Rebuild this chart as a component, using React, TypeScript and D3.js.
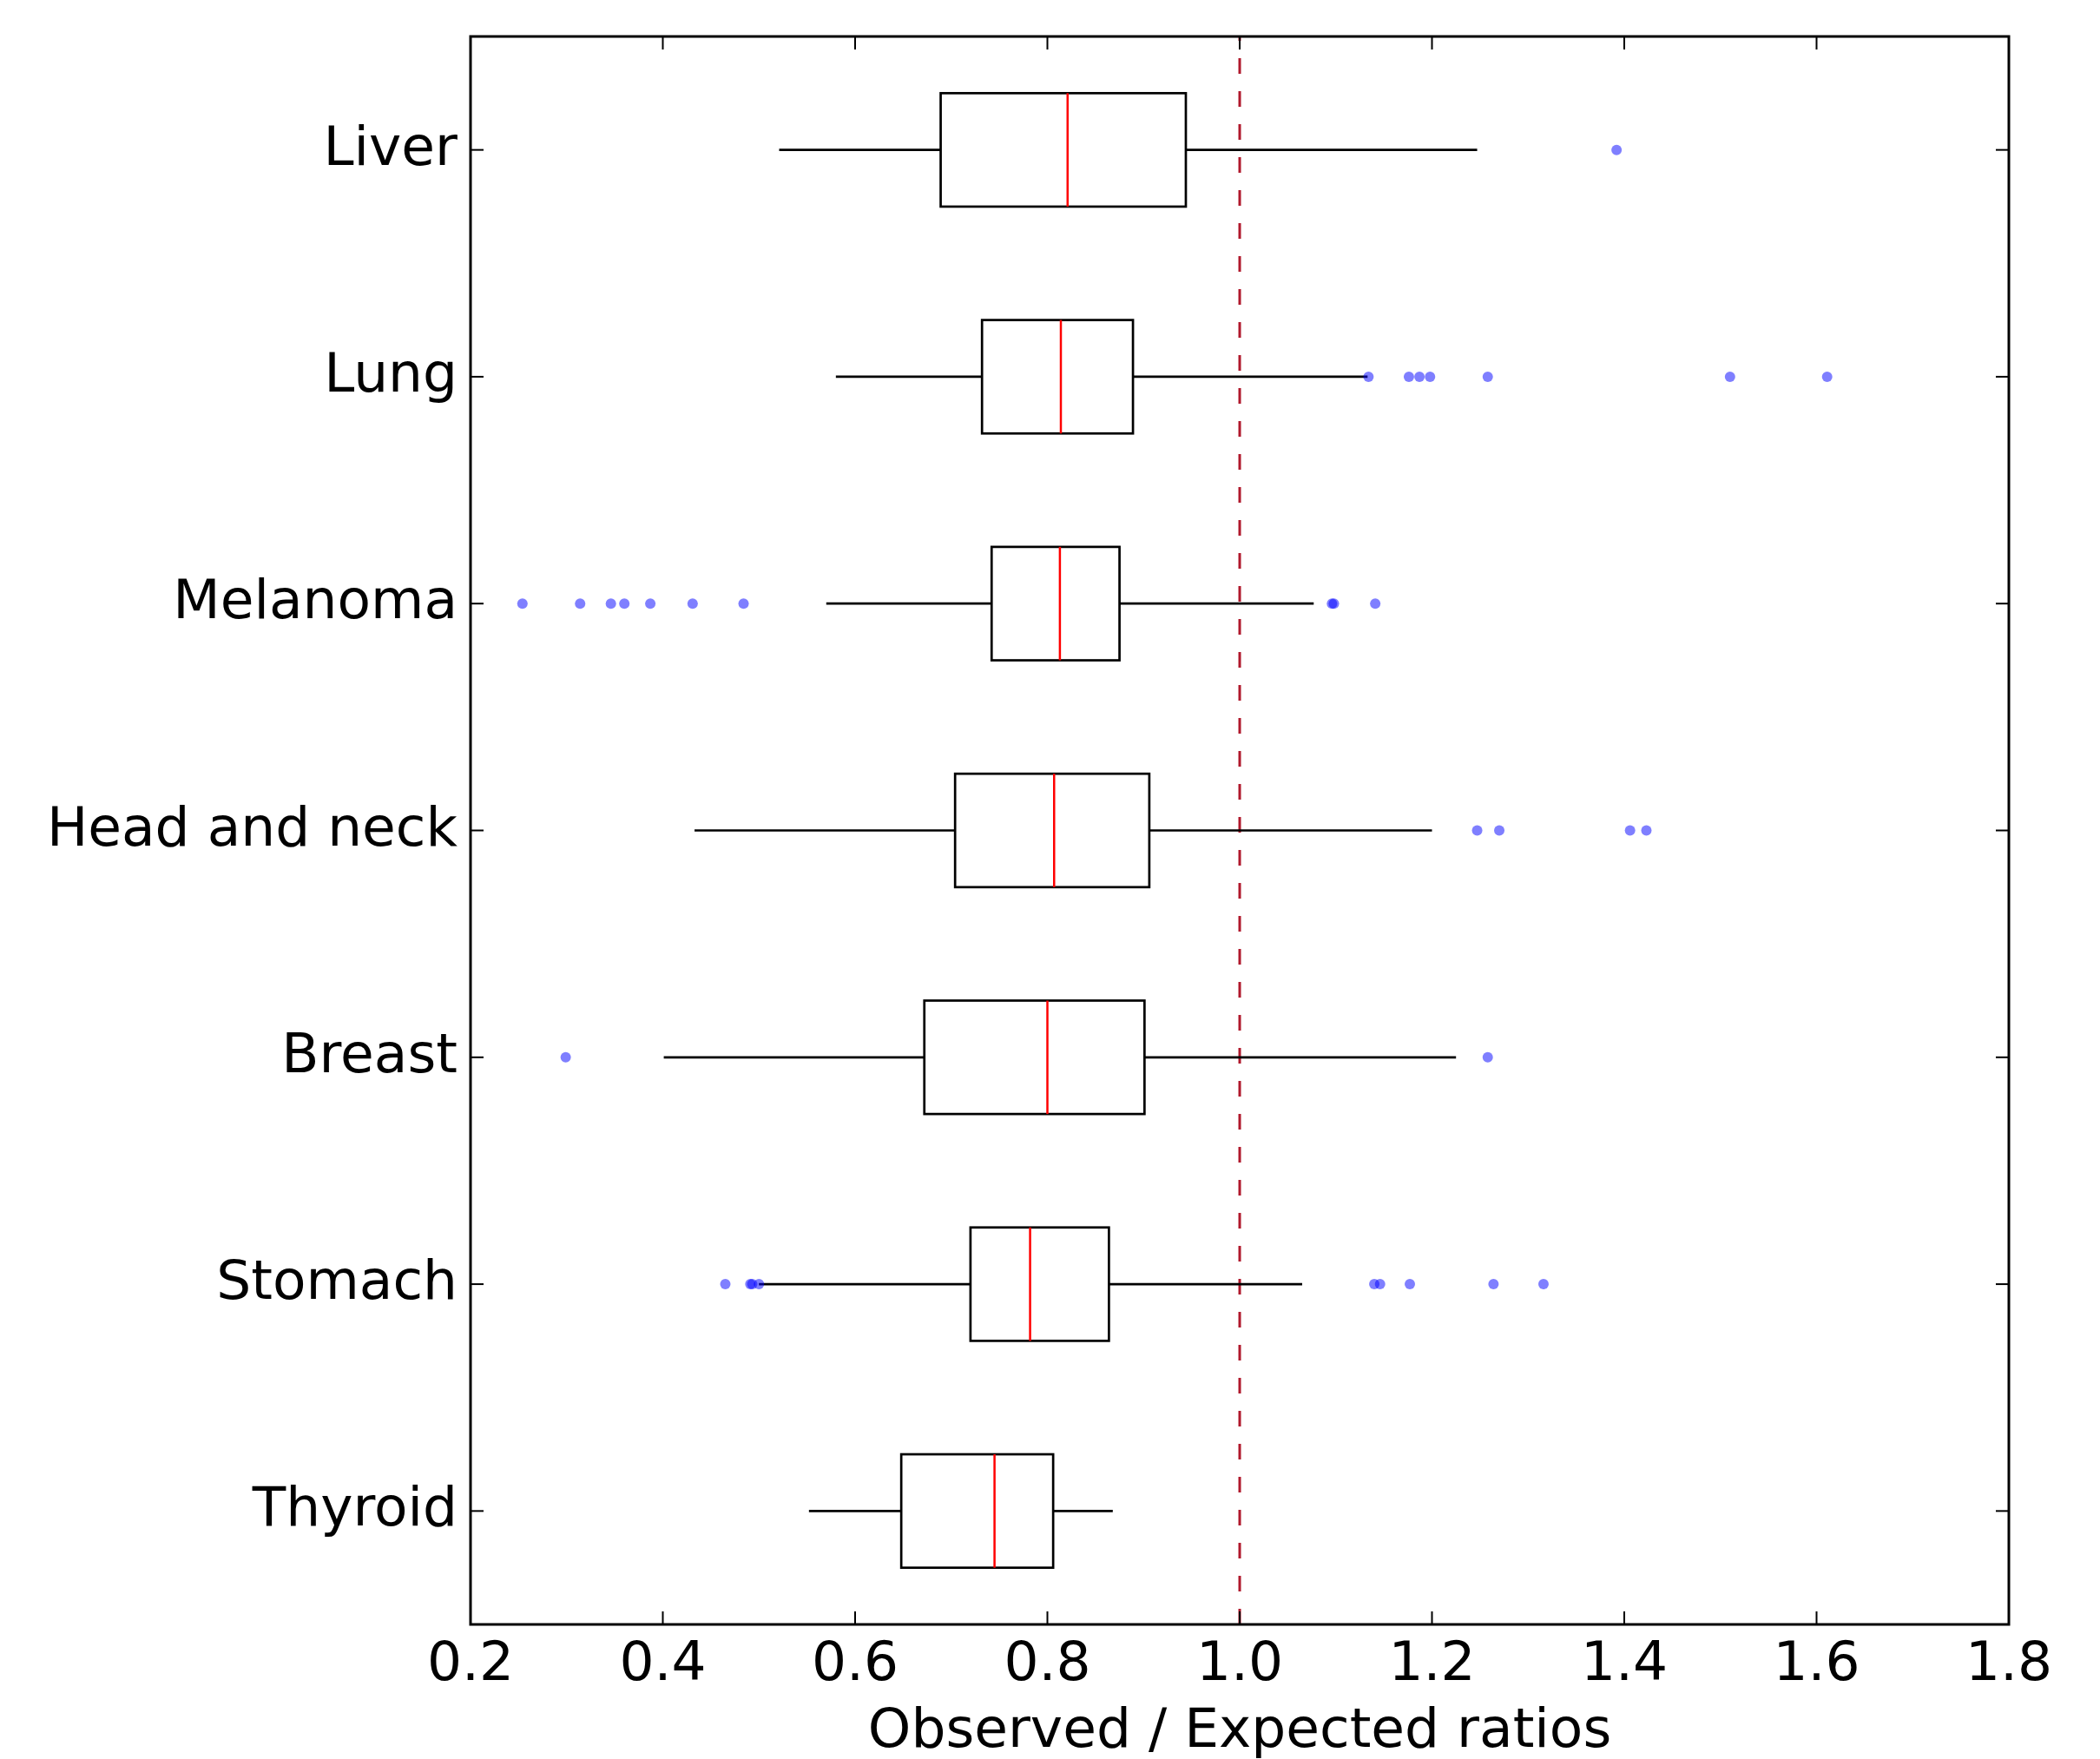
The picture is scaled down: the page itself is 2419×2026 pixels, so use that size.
import React from 'react';
import * as d3 from 'd3';

// categories top to bottom
const categories = ['Liver', 'Lung', 'Melanoma', 'Head and neck', 'Breast', 'Stomach', 'Thyroid'];

// box stats
const whiskerLow = [0.521, 0.58, 0.57, 0.433, 0.401, 0.5, 0.552];
const q1 = [0.689, 0.732, 0.742, 0.704, 0.672, 0.72, 0.648];
const median = [0.821, 0.814, 0.813, 0.807, 0.8, 0.782, 0.745];
const q3 = [0.944, 0.889, 0.875, 0.906, 0.901, 0.864, 0.806];
const whiskerHigh = [1.247, 1.133, 1.077, 1.2, 1.225, 1.065, 0.868];
const outliers = [
    [1.392],
    [1.134, 1.176, 1.187, 1.198, 1.258, 1.51, 1.611],
    [0.254, 0.314, 0.346, 0.36, 0.387, 0.431, 0.484, 1.096, 1.098, 1.141],
    [1.247, 1.27, 1.406, 1.423],
    [0.299, 1.258],
    [0.465, 0.491, 0.493, 0.5, 1.14, 1.146, 1.177, 1.264, 1.316],
    [],
];

const xTicks = [0.2, 0.4, 0.6, 0.8, 1.0, 1.2, 1.4, 1.6, 1.8];
const refLine = 1.0;
const xLabel = 'Observed / Expected ratios';

const width = 2419;
const height = 2026;
const margin = { top: 42, right: 105, bottom: 155, left: 542 };
const font = '"DejaVu Sans", sans-serif';
const fontSize = 63;

const App = () => {
    const x = d3.scaleLinear().domain([0.2, 1.8]).range([margin.left, width - margin.right]);
    const y = d3
        .scaleBand()
        .domain(categories)
        .range([margin.top, height - margin.bottom]);
    const bw = y.bandwidth();
    const boxH = bw * 0.5;
    const tickLen = 15;
    const x0 = margin.left;
    const x1 = width - margin.right;
    const y0 = margin.top;
    const y1 = height - margin.bottom;

    return (
        <svg
            width={width}
            height={height}
            style={{ position: 'absolute', left: 0, top: 0, background: '#fff' }}
            fontFamily={font}
        >
            <rect x={0} y={0} width={width} height={height} fill="#fff" />

            {/* reference line, dashes start at the bottom */}
            <line
                x1={x(refLine)}
                x2={x(refLine)}
                y1={y1}
                y2={y0}
                stroke="#b0182c"
                strokeWidth={3}
                strokeDasharray="18 20"
            />

            {categories.map((c, i) => {
                const cy = (y(c) || 0) + bw / 2;
                return (
                    <g key={c}>
                        <line x1={x(whiskerLow[i])} x2={x(q1[i])} y1={cy} y2={cy} stroke="#000" strokeWidth={2.7} />
                        <line x1={x(q3[i])} x2={x(whiskerHigh[i])} y1={cy} y2={cy} stroke="#000" strokeWidth={2.7} />
                        <rect
                            x={x(q1[i])}
                            y={cy - boxH / 2}
                            width={x(q3[i]) - x(q1[i])}
                            height={boxH}
                            fill="none"
                            stroke="#000"
                            strokeWidth={2.7}
                        />
                        <line
                            x1={x(median[i])}
                            x2={x(median[i])}
                            y1={cy - boxH / 2}
                            y2={cy + boxH / 2}
                            stroke="#ff0000"
                            strokeWidth={2.5}
                        />
                        {outliers[i].map((v, j) => (
                            <circle key={j} cx={x(v)} cy={cy} r={6} fill="#0000ff" fillOpacity={0.5} />
                        ))}
                    </g>
                );
            })}

            {/* frame */}
            <rect x={x0} y={y0} width={x1 - x0} height={y1 - y0} fill="none" stroke="#000" strokeWidth={3} />

            {/* x ticks, inward on bottom and top */}
            {xTicks.map((t) => (
                <g key={t}>
                    <line x1={x(t)} x2={x(t)} y1={y1} y2={y1 - tickLen} stroke="#000" strokeWidth={2} />
                    <line x1={x(t)} x2={x(t)} y1={y0} y2={y0 + tickLen} stroke="#000" strokeWidth={2} />
                    <text x={x(t)} y={1935} textAnchor="middle" fontSize={fontSize} fill="#000">
                        {d3.format('.1f')(t)}
                    </text>
                </g>
            ))}

            {/* y ticks, inward on left and right */}
            {categories.map((c) => {
                const cy = (y(c) || 0) + bw / 2;
                return (
                    <g key={c}>
                        <line x1={x0} x2={x0 + tickLen} y1={cy} y2={cy} stroke="#000" strokeWidth={2} />
                        <line x1={x1} x2={x1 - tickLen} y1={cy} y2={cy} stroke="#000" strokeWidth={2} />
                        <text x={x0 - 15} y={cy + 17} textAnchor="end" fontSize={fontSize} fill="#000">
                            {c}
                        </text>
                    </g>
                );
            })}

            <text x={(x0 + x1) / 2} y={2012} textAnchor="middle" fontSize={fontSize} fill="#000">
                {xLabel}
            </text>
        </svg>
    );
};

export default App;
